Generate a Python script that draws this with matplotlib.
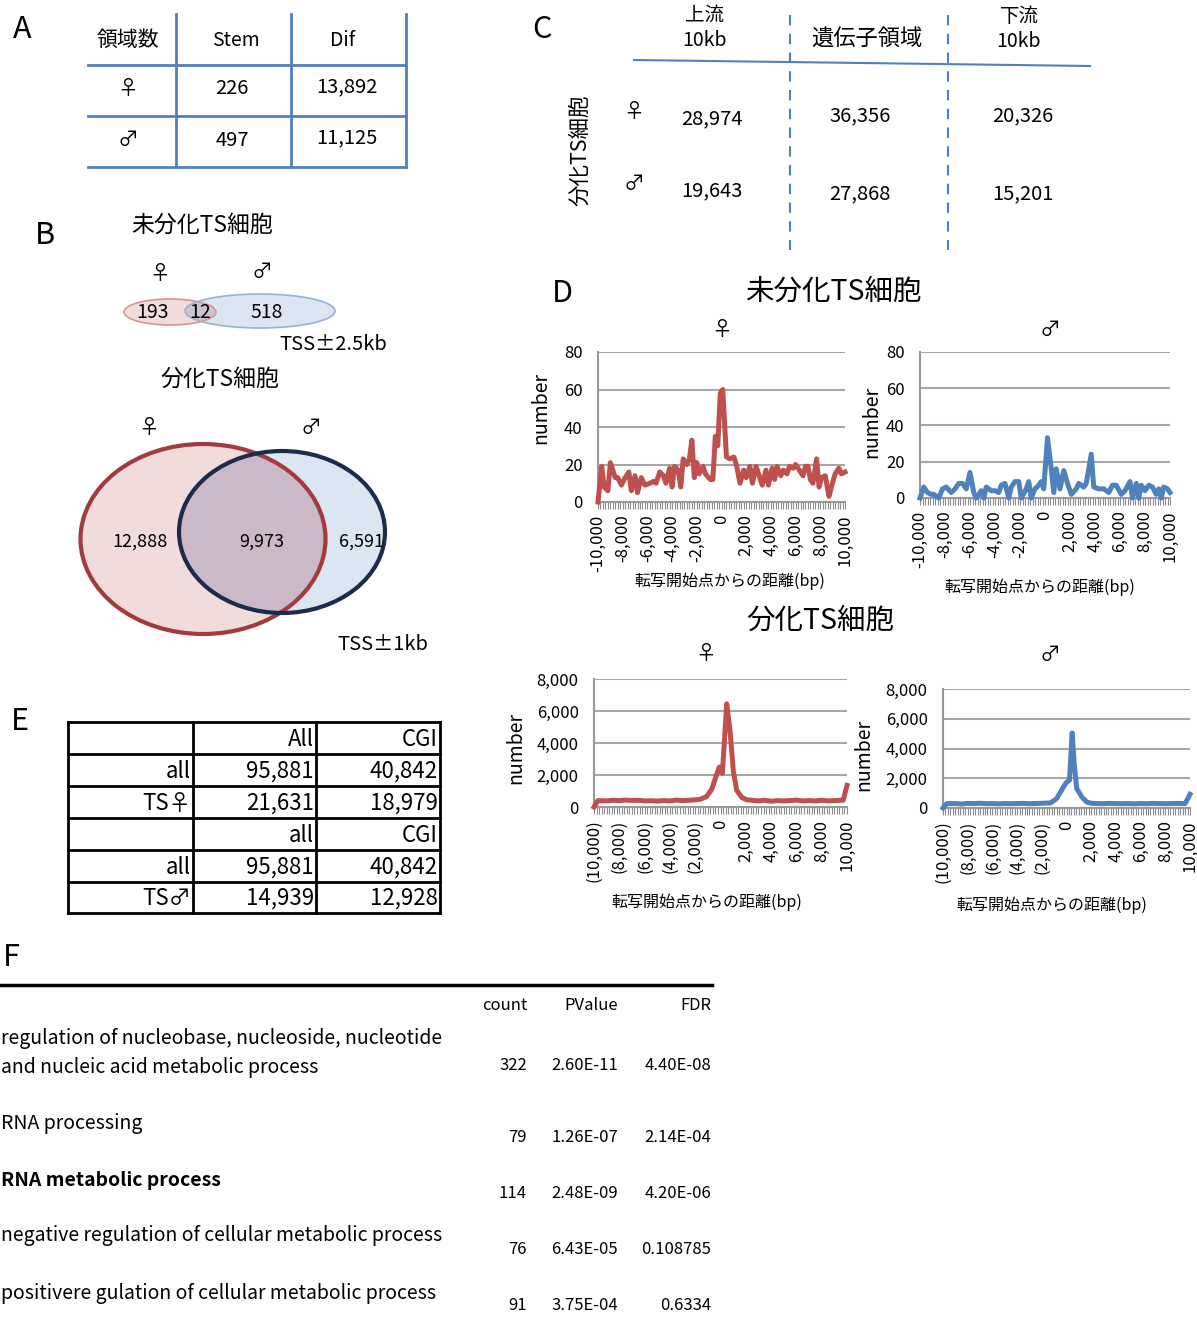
import numpy as np
import matplotlib
matplotlib.use("Agg")
import matplotlib.pyplot as plt
from matplotlib.patches import Ellipse

plt.rcParams['font.family'] = ['Noto Sans CJK JP', 'DejaVu Sans']

# ---- data ----
# A: number of regions
a_rows = ['♀', '♂']
a_stem = [226, 497]
a_dif = [13892, 11125]

# B: venn counts (left only, overlap, right only)
venn_stem = [193, 12, 518]
venn_dif = [12888, 9973, 6591]

# C: differentiated TS cells, upstream / gene body / downstream
c_cols = ['上流\n10kb', '遺伝子領域', '下流\n10kb']
c_female = [28974, 36356, 20326]
c_male = [19643, 27868, 15201]

# D: distance from TSS (bp) vs number
stem_f_x = [-10000, -9700, -9500, -9200, -9000, -8600, -8400, -8100, -7800, -7500,
            -7300, -7000, -6800, -6500, -6200, -5800, -5500, -5300, -5000, -4700,
            -4500, -4200, -4000, -3800, -3500, -3300, -3100, -2800, -2600, -2400,
            -2200, -2000, -1800, -1500, -1300, -900, -700, -500, -300, -100,
            100, 400, 700, 1000, 1200, 1500, 1800, 2000, 2300, 2500,
            2800, 3100, 3300, 3600, 3800, 4100, 4300, 4500, 4800, 5000,
            5300, 5500, 5800, 6000, 6300, 6600, 6800, 7000, 7200, 7400,
            7700, 7900, 8100, 8400, 8700, 8900, 9200, 9500, 9700, 10000]
stem_f_y = [0, 19, 8, 6, 21, 13, 13, 9, 13, 16,
            6, 14, 5, 13, 9, 10, 11, 10, 16, 14,
            10, 18, 8, 19, 17, 8, 23, 20, 23, 33,
            13, 21, 15, 19, 15, 12, 12, 35, 30, 58,
            60, 24, 23, 24, 20, 10, 17, 13, 19, 10,
            19, 13, 9, 17, 9, 18, 12, 19, 14, 17,
            15, 19, 18, 20, 17, 14, 19, 19, 12, 10,
            23, 8, 13, 14, 3, 8, 15, 18, 15, 16]

stem_m_x = [-10000, -9700, -9400, -9100, -8900, -8500, -8200, -7900, -7500, -7200,
            -6900, -6600, -6300, -6000, -5700, -5500, -5100, -4900, -4700, -4300,
            -4000, -3700, -3500, -3200, -2900, -2700, -2400, -2100, -1900, -1500,
            -1300, -1100, -800, -500, -300, -100, 200, 500, 700, 900,
            1200, 1500, 1800, 2100, 2500, 2700, 3100, 3300, 3700, 3900,
            4300, 4700, 5100, 5400, 5700, 6100, 6400, 6800, 7000, 7300,
            7500, 7700, 8000, 8300, 8600, 8900, 9100, 9300, 9500, 9800, 10000]
stem_m_y = [0, 6, 3, 2, 2, 0, 5, 6, 3, 5,
            8, 8, 5, 14, 3, 0, 4, 0, 6, 4,
            4, 3, 7, 8, 0, 6, 9, 9, 0, 5,
            9, 0, 5, 7, 9, 5, 33, 16, 3, 16,
            5, 15, 8, 2, 5, 8, 6, 8, 24, 6,
            5, 5, 3, 7, 7, 2, 4, 9, 0, 8,
            0, 7, 4, 7, 6, 2, 5, 0, 6, 5, 3]

dif_f_x = [-10000, -9700, -9000, -8500, -8000, -7500, -7000, -6500, -6000, -5500,
           -5000, -4500, -4000, -3500, -3000, -2500, -2000, -1600, -1100, -700,
           -360, -90, 150, 490, 750, 1020, 1280, 1680, 2070, 2500,
           3000, 3500, 4000, 4500, 5000, 5500, 6000, 6500, 7000, 7500,
           8000, 8500, 9000, 9500, 9700, 10000]
dif_f_y = [0, 400, 380, 420, 400, 430, 410, 420, 380, 390,
           370, 400, 380, 430, 400, 420, 450, 480, 650, 1100,
           1900, 2500, 2100, 6450, 4800, 2200, 1050, 600, 450, 420,
           380, 420, 360, 400, 380, 400, 430, 380, 400, 380,
           420, 380, 400, 420, 420, 1350]

dif_m_x = [-10000, -9700, -9000, -8500, -8000, -7500, -7000, -6500, -6000, -5500,
           -5000, -4500, -4000, -3500, -3000, -2500, -2000, -1300, -800, -400,
           -30, 240, 460, 620, 830, 1240, 1640, 2000, 2500, 3000,
           3500, 4000, 4500, 5000, 5500, 6000, 6500, 7000, 7500, 8000,
           8500, 9000, 9600, 10000]
dif_m_y = [0, 290, 300, 270, 310, 300, 320, 290, 300, 280,
           300, 290, 300, 310, 290, 300, 320, 340, 630, 1200,
           1700, 1870, 5050, 3000, 1300, 740, 400, 320, 300, 290,
           310, 300, 290, 300, 280, 300, 290, 310, 300, 290,
           300, 310, 290, 920]

xticks_bp = list(range(-10000, 10001, 2000))

# E: counts
e_row_labels = ['', 'all', 'TS♀', '', 'all', 'TS♂']
e_col_all = ['All', 95881, 21631, 'all', 95881, 14939]
e_col_cgi = ['CGI', 40842, 18979, 'CGI', 40842, 12928]

# F: GO terms
go_terms = ['regulation of nucleobase, nucleoside, nucleotide\nand nucleic acid metabolic process',
            'RNA processing',
            'RNA metabolic process',
            'negative regulation of cellular metabolic process',
            'positivere gulation of cellular metabolic process']
go_count = [322, 79, 114, 76, 91]
go_pvalue = ['2.60E-11', '1.26E-07', '2.48E-09', '6.43E-05', '3.75E-04']
go_fdr = ['4.40E-08', '2.14E-04', '4.20E-06', '0.108785', '0.6334']

RED = '#C0504D'
BLUE = '#4F81BD'
TBL = '#4F81BD'

W, H = 1197, 1327
fig = plt.figure(figsize=(W / 100, H / 100), dpi=100)
ax0 = fig.add_axes([0, 0, 1, 1])
ax0.set_xlim(0, W)
ax0.set_ylim(H, 0)
ax0.axis('off')


def txt(x, y, s, size, ha='center', va='center', **kw):
    ax0.text(x, y, s, fontsize=size, ha=ha, va=va, **kw)


def fmt(v):
    return f"{v:,}" if isinstance(v, int) else v


# ---- A ----
txt(22, 30, 'A', 22)
for x in [176, 291, 406]:
    ax0.plot([x, x], [14, 167], color=TBL, lw=2)
for y in [65, 116, 167]:
    ax0.plot([88, 406], [y, y], color=TBL, lw=2)
txt(128, 40, '領域数', 15)
txt(236, 40, 'Stem', 14)
txt(343, 40, 'Dif', 14)
for i, lab in enumerate(a_rows):
    y = 89 + i * 51
    txt(128, y, lab, 15)
    txt(232, y, fmt(a_stem[i]), 14.5)
    txt(347, y - 2, fmt(a_dif[i]), 14.5)

# ---- B ----
txt(45, 236, 'B', 22)
txt(202, 225, '未分化TS細胞', 16.5)
txt(160, 274, '♀', 15)
txt(262, 272, '♂', 15)
e1 = Ellipse((170, 312), 92, 26, facecolor='#F2DCDB', edgecolor='none')
e2 = Ellipse((260, 311), 150, 34, facecolor='#DCE6F2', edgecolor='none')
ax0.add_patch(e1)
ax0.add_patch(e2)
ov = Ellipse((260, 311), 150, 34, facecolor='#CFC3D2', edgecolor='none')
ax0.add_patch(ov)
ov.set_clip_path(e1)
ax0.add_patch(Ellipse((170, 312), 92, 26, facecolor='none', edgecolor='#D99694', lw=1.2))
ax0.add_patch(Ellipse((260, 311), 150, 34, facecolor='none', edgecolor='#95B3D7', lw=1.2))
txt(153, 313, fmt(venn_stem[0]), 14)
txt(200, 313, fmt(venn_stem[1]), 14)
txt(267, 313, fmt(venn_stem[2]), 14)
txt(333, 345, 'TSS±2.5kb', 14.5)

txt(220, 379, '分化TS細胞', 16.5)
txt(149, 428, '♀', 15)
txt(311, 428, '♂', 15)
b1 = Ellipse((203, 539), 245, 190, facecolor='#F2DCDB', edgecolor='none')
b2 = Ellipse((282, 532), 206, 162, facecolor='#DCE6F2', edgecolor='none')
ax0.add_patch(b1)
ax0.add_patch(b2)
bov = Ellipse((282, 532), 206, 162, facecolor='#C9B9C9', edgecolor='none')
ax0.add_patch(bov)
bov.set_clip_path(b1)
ax0.add_patch(Ellipse((203, 539), 245, 190, facecolor='none', edgecolor='#A33A3C', lw=3))
ax0.add_patch(Ellipse((282, 532), 206, 162, facecolor='none', edgecolor='#1C2B4A', lw=3))
txt(140, 542, fmt(venn_dif[0]), 13)
txt(262, 542, fmt(venn_dif[1]), 13)
txt(361, 542, fmt(venn_dif[2]), 13)
txt(383, 645, 'TSS±1kb', 14.5)

# ---- C ----
txt(542, 30, 'C', 22)
txt(580, 150, '分化TS細胞', 15.5, rotation=90)
ax0.plot([634, 1090], [60, 66], color=TBL, lw=1.5)
for x in [790, 948]:
    ax0.plot([x, x], [15, 250], color=TBL, lw=1.5, ls=(0, (5, 4)))
c_x = [705, 867, 1019]
txt(c_x[0], 28, c_cols[0], 14, linespacing=1.25)
txt(c_x[1], 39, c_cols[1], 16)
txt(c_x[2], 29, c_cols[2], 14, linespacing=1.25)
txt(634, 112, '♀', 15)
txt(634, 184, '♂', 15)
for i, x in enumerate([712, 860, 1023]):
    txt(x, 119 if i == 0 else 116, fmt(c_female[i]), 14.5)
    txt(x, 191 if i == 0 else 194, fmt(c_male[i]), 14.5)


# ---- D ----
def px_axes(l, t, r, b):
    return fig.add_axes([l / W, 1 - b / H, (r - l) / W, (b - t) / H])


def draw_chart(rect, xs, ys, color, ymax, ystep, paren):
    ax = px_axes(*rect)
    ax.patch.set_alpha(0)
    ax.plot(xs, ys, color=color, lw=3.6, solid_joinstyle='round', clip_on=False, zorder=3)
    ax.set_xlim(-10000, 10000)
    ax.set_ylim(0, ymax)
    yt = list(range(0, ymax + 1, ystep))
    ax.set_yticks(yt)
    ax.set_yticklabels([f"{v:,}" for v in yt], fontsize=12)
    ax.grid(axis='y', color='#A6A6A6', lw=1.5)
    ax.set_axisbelow(True)
    for s in ['top', 'right']:
        ax.spines[s].set_visible(False)
    for s in ['left', 'bottom']:
        ax.spines[s].set_color('#999999')
        ax.spines[s].set_linewidth(1.5)
    ax.set_xticks(xticks_bp)
    if paren:
        labs = [f"({abs(v):,})" if v < 0 else f"{v:,}" for v in xticks_bp]
    else:
        labs = [f"{v:,}" for v in xticks_bp]
    ax.set_xticklabels(labs, rotation=90, fontsize=12)
    ax.set_xticks(np.arange(-10000, 10001, 200), minor=True)
    ax.tick_params(axis='x', which='both', length=5, color='#8C8C8C', width=0.8, pad=4)
    ax.tick_params(axis='y', length=0, pad=11)
    return ax


txt(562, 293, 'D', 22)
txt(833, 292, '未分化TS細胞', 20.5)
draw_chart((598, 352, 845, 502), stem_f_x, stem_f_y, RED, 80, 20, False)
txt(722, 330, '♀', 15)
txt(541, 408, 'number', 14, rotation=90)
txt(730, 581, '転写開始点からの距離(bp)', 11.5)

draw_chart((920, 352, 1170, 498), stem_m_x, stem_m_y, BLUE, 80, 20, False)
txt(1050, 330, '♂', 15)
txt(872, 422, 'number', 14, rotation=90)
txt(1040, 587, '転写開始点からの距離(bp)', 11.5)

txt(820, 621, '分化TS細胞', 20.5)
draw_chart((594, 679, 847, 807), dif_f_x, dif_f_y, RED, 8000, 2000, True)
txt(706, 654, '♀', 15)
txt(516, 748, 'number', 14, rotation=90)
txt(707, 902, '転写開始点からの距離(bp)', 11.5)

draw_chart((943, 689, 1190, 808), dif_m_x, dif_m_y, BLUE, 8000, 2000, True)
txt(1050, 655, '♂', 15)
txt(864, 755, 'number', 14, rotation=90)
txt(1052, 905, '転写開始点からの距離(bp)', 11.5)

# ---- E ----
txt(20, 722, 'E', 22)
e_xs = [68, 193, 316, 440]
e_ys = [722, 754, 786, 818, 850, 882, 913]
for x in e_xs:
    ax0.plot([x, x], [e_ys[0], e_ys[-1]], color='black', lw=2)
for y in e_ys:
    ax0.plot([e_xs[0], e_xs[-1]], [y, y], color='black', lw=2)
for i in range(len(e_row_labels)):
    yc = (e_ys[i] + e_ys[i + 1]) / 2 + 1
    txt(e_xs[1] - 2, yc, e_row_labels[i], 16, ha='right')
    txt(e_xs[2] - 2, yc, fmt(e_col_all[i]), 16, ha='right')
    txt(e_xs[3] - 2, yc, fmt(e_col_cgi[i]), 16, ha='right')

# ---- F ----
txt(11, 958, 'F', 22)
ax0.plot([0, 712], [985, 985], color='black', lw=2.5)
txt(527, 1005, 'count', 12, ha='right')
txt(618, 1005, 'PValue', 12, ha='right')
txt(711, 1005, 'FDR', 12, ha='right')
term_y = [1053, 1123, 1180, 1236, 1293]
val_y = [1066, 1137, 1193, 1250, 1306]
for i, term in enumerate(go_terms):
    txt(1, term_y[i], term, 14, ha='left', linespacing=1.45,
        fontweight='bold' if i == 2 else 'normal')
    txt(527, val_y[i], str(go_count[i]), 12, ha='right')
    txt(618, val_y[i], go_pvalue[i], 12, ha='right')
    txt(711, val_y[i], go_fdr[i], 12, ha='right')

fig.savefig('out.png', dpi=100)
